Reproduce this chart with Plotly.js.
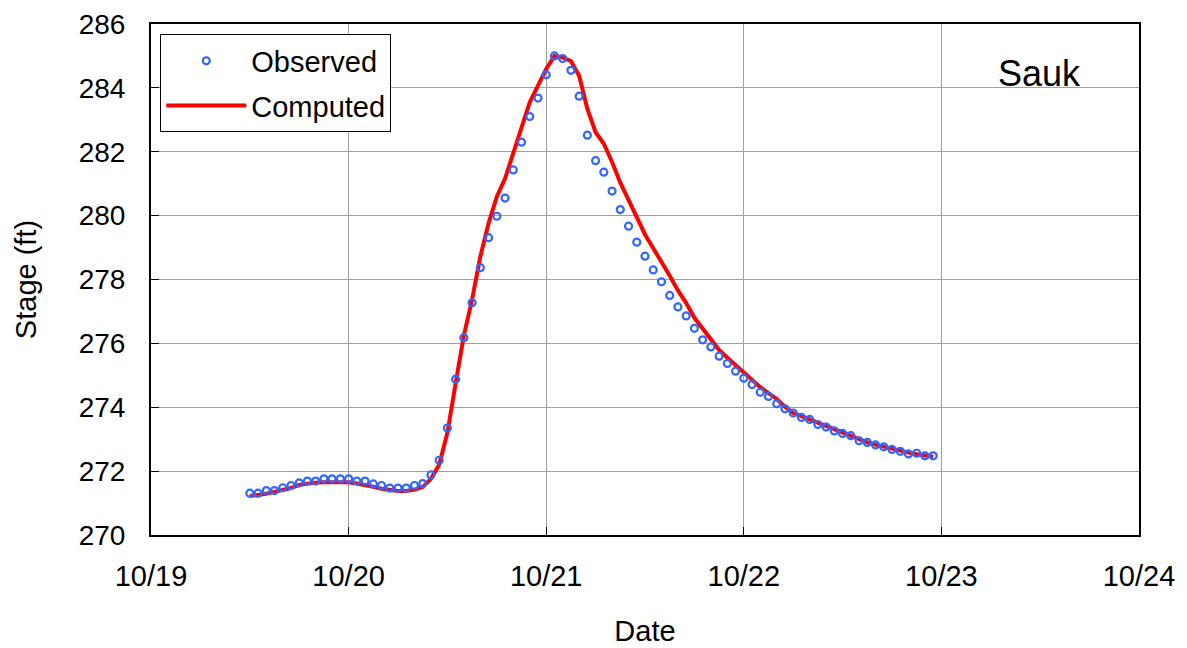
<!DOCTYPE html>
<html>
<head>
<meta charset="utf-8">
<script src="https://cdn.plot.ly/plotly-3.0.1.min.js"></script>
<style>html,body{margin:0;padding:0;background:#fff;}#chart{width:1187px;height:648px;}</style>
</head>
<body>
<div id="chart"></div>
<script>
// Hourly series, first reading 10/19 12:00
var START_TIME = '2003-10-19 12:00';
var STEP_MS = 3600000;

var observedStage = [
  271.31, 271.31, 271.39, 271.39, 271.48, 271.55, 271.63, 271.69, 271.69, 271.76,
  271.76, 271.76, 271.76, 271.69, 271.69, 271.60, 271.55, 271.47, 271.47, 271.47,
  271.55, 271.61, 271.88, 272.34, 273.35, 274.88, 276.18, 277.27, 278.37, 279.31,
  279.98, 280.55, 281.43, 282.30, 283.10, 283.68, 284.41, 285.00, 284.92, 284.55,
  283.74, 282.52, 281.72, 281.36, 280.77, 280.19, 279.67, 279.17, 278.73, 278.30,
  277.93, 277.50, 277.14, 276.86, 276.47, 276.11, 275.89, 275.60, 275.37, 275.13,
  274.91, 274.71, 274.47, 274.34, 274.11, 273.95, 273.82, 273.68, 273.62, 273.46,
  273.38, 273.26, 273.18, 273.11, 272.95, 272.90, 272.82, 272.76, 272.68, 272.62,
  272.54, 272.56, 272.48, 272.48
];

var computedStage = [
  271.22, 271.25, 271.29, 271.35, 271.40, 271.47, 271.57, 271.61, 271.64, 271.65,
  271.65, 271.65, 271.65, 271.61, 271.57, 271.51, 271.45, 271.41, 271.38, 271.38,
  271.42, 271.50, 271.76, 272.20, 273.20, 274.75, 276.25, 277.37, 278.72, 279.76,
  280.59, 281.16, 281.99, 282.80, 283.55, 284.07, 284.59, 285.00, 284.95, 284.84,
  284.38, 283.34, 282.61, 282.25, 281.68, 281.03, 280.48, 279.91, 279.41, 278.98,
  278.56, 278.12, 277.66, 277.26, 276.80, 276.45, 276.12, 275.79, 275.55, 275.32,
  275.07, 274.87, 274.63, 274.44, 274.26, 274.02, 273.82, 273.72, 273.62, 273.50,
  273.39, 273.31, 273.21, 273.11, 273.01, 272.90, 272.83, 272.76, 272.70, 272.64,
  272.58, 272.53, 272.48, 272.45
];

var xRange = ['2003-10-19', '2003-10-24'];
var yRange = [270, 286];
var stationName = 'Sauk';

var FONT = 'Liberation Sans, Arial, Helvetica, sans-serif';

var traces = [
  {
    type: 'scatter', mode: 'lines', name: 'Computed',
    x0: START_TIME, dx: STEP_MS, y: computedStage,
    line: {color: '#ff0000', width: 4},
    legendrank: 2, legendgroup: 'b'
  },
  {
    type: 'scatter', mode: 'markers', name: 'Observed',
    x0: START_TIME, dx: STEP_MS, y: observedStage,
    marker: {symbol: 'circle-open', size: 7, color: '#3366ff', line: {color: '#3366ff', width: 2.2}},
    legendrank: 1, legendgroup: 'a'
  }
];

var layout = {
  width: 1187, height: 648,
  margin: {l: 151, r: 48, t: 24, b: 113, pad: 0},
  paper_bgcolor: '#ffffff', plot_bgcolor: '#ffffff',
  font: {family: FONT, color: '#000000', size: 28},
  showlegend: true,
  legend: {
    x: 0.0094, y: 0.9795, xanchor: 'left', yanchor: 'top',
    bgcolor: '#ffffff', bordercolor: '#000000', borderwidth: 1,
    font: {family: FONT, size: 29, color: '#000000'},
    itemwidth: 80, tracegroupgap: 4
  },
  xaxis: {
    type: 'date', range: xRange, autorange: false,
    tick0: xRange[0], dtick: 86400000, tickformat: '%m/%d',
    showgrid: true, gridcolor: '#a0a0a0', gridwidth: 1,
    showline: true, linecolor: '#000000', linewidth: 2, mirror: true,
    ticks: 'inside', ticklen: 8, tickwidth: 1, tickcolor: '#000000',
    tickfont: {family: FONT, size: 29, color: '#000000'},
    ticklabelstandoff: 14,
    zeroline: false,
    title: {text: 'Date', font: {family: FONT, size: 29, color: '#000000'}, standoff: 30}
  },
  yaxis: {
    range: yRange, autorange: false, dtick: 2, tick0: 270,
    showgrid: true, gridcolor: '#a0a0a0', gridwidth: 1,
    showline: true, linecolor: '#000000', linewidth: 2, mirror: true,
    ticks: 'inside', ticklen: 8, tickwidth: 1, tickcolor: '#000000',
    tickfont: {family: FONT, size: 28, color: '#000000'},
    ticklabelstandoff: 18,
    zeroline: false,
    title: {text: 'Stage (ft)', font: {family: FONT, size: 29, color: '#000000'}, standoff: 34}
  },
  annotations: [{
    text: stationName, xref: 'paper', yref: 'paper',
    x: 0.8988, y: 0.904, xanchor: 'center', yanchor: 'middle',
    showarrow: false, font: {family: FONT, size: 36, color: '#000000'}
  }]
};

Plotly.newPlot('chart', traces, layout, {displayModeBar: false, staticPlot: true});
</script>
</body>
</html>
